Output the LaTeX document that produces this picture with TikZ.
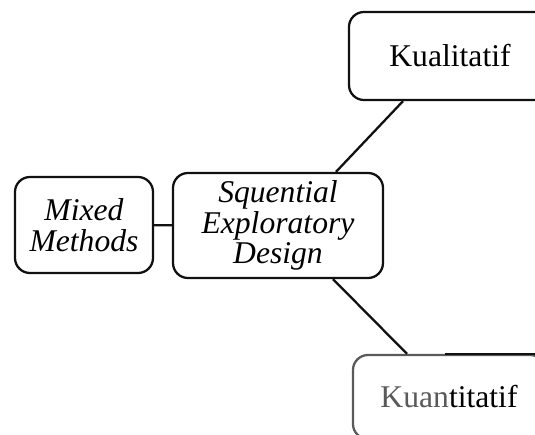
\documentclass[tikz,border=0pt]{standalone}
\usepackage{fontspec}
\setmainfont{Liberation Serif}
\usepackage{tikz}
\usetikzlibrary{positioning,calc}
\definecolor{Ink}{HTML}{111111}
\definecolor{Fade}{HTML}{5A5A5A}

\begin{document}
\begin{tikzpicture}[x=1cm,y=1cm,every node/.style={align=center,font=\fontsize{18}{17.5}\selectfont},
    box/.style={draw=Ink,line width=1.3pt,rounded corners=0.3cm,fill=white},
    link/.style={draw=Ink,line width=1.3pt}]
      \clip (0,0) rectangle (10.7,8.68);
      \fill[white] (0,0) rectangle (10.7,8.68);
      
      \node[box,minimum width=2.76cm,minimum height=1.92cm] (mixed) at (1.68,4.18) {\textit{Mixed}\\\textit{Methods}};
      
      \node[box,minimum width=4.2cm,minimum height=2.1cm] (design) at (5.56,4.17) {\textit{Squential}\\\textit{Exploratory}\\\textit{Design}};
      
      \node[box,minimum width=4.04cm,minimum height=1.76cm] (kuali) at (9.0,7.56) {Kualitatif};
      
      \node[box,draw=Fade,minimum width=3.84cm,minimum height=1.68cm] (kuanti) at (8.98,0.74) {{\color{Fade}Kuan}titatif};
      \draw[link] ([xshift=-0.08cm]kuanti.north) -- (kuanti.north east);
      
      \draw[link] (mixed) -- (design);
      \draw[link] ([xshift=1.16cm]design.north) -- ([xshift=-0.94cm]kuali.south);
      \draw[link] ([xshift=1.1cm]design.south) -- ([xshift=-0.84cm]kuanti.north);
    \end{tikzpicture}
\end{document}
